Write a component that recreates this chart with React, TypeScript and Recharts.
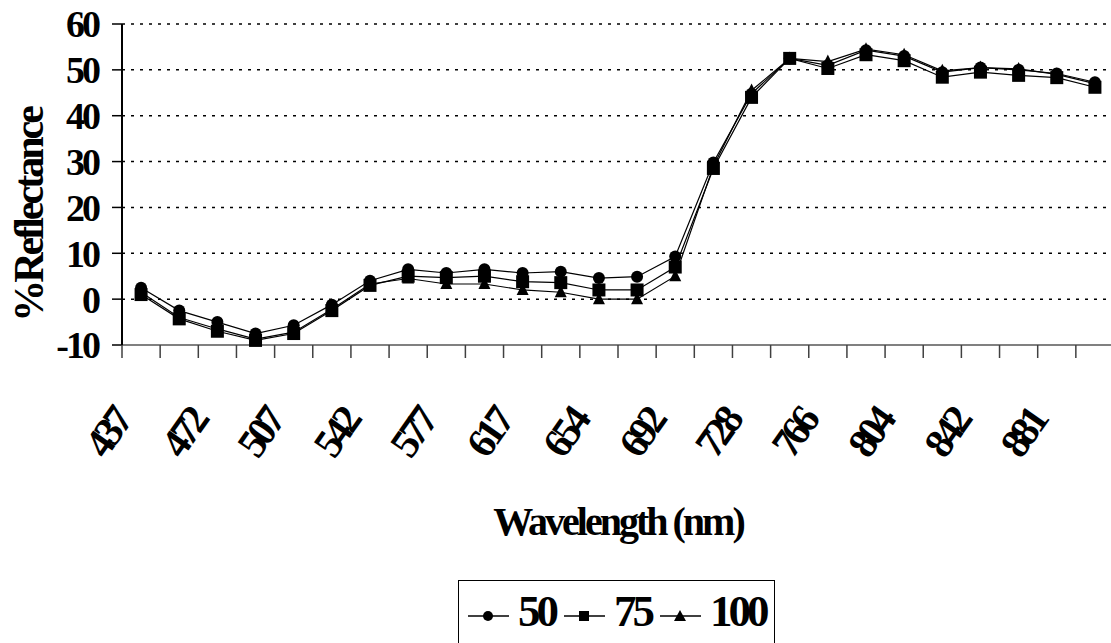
import { LineChart, Line, XAxis, YAxis, CartesianGrid, Legend, Label } from "recharts";

const wavelengths = [437, 455, 472, 490, 507, 525, 542, 560, 577, 597, 617, 635, 654, 673, 692, 710, 728, 747, 766, 785, 804, 823, 842, 862, 881, 900];
const r50 = [2.5, -2.5, -5, -7.5, -5.7, -1.2, 4, 6.5, 5.7, 6.5, 5.7, 6, 4.6, 4.9, 9.3, 29.8, 44.8, 52.5, 51, 54.3, 53, 49.5, 50.5, 50, 49.2, 47.3];
const r75 = [1, -4.3, -7, -9, -7.5, -2.5, 3, 5, 4.7, 5, 3.8, 3.6, 2, 2, 7, 28.5, 44, 52.5, 50.3, 53.3, 52, 48.4, 49.5, 48.8, 48.3, 46.2];
const r100 = [1.5, -4, -6.5, -8.7, -7.2, -2.2, 3.3, 4.5, 3.3, 3.3, 2, 1.5, 0, 0, 5, 29, 45.5, 52.5, 51.8, 54.5, 53.3, 49.8, 50.5, 50.2, 49, 47];
const yTicks = [-10, 0, 10, 20, 30, 40, 50, 60];

const data = wavelengths.map((w, i) => ({ w, s50: r50[i], s75: r75[i], s100: r100[i] }));

const FONT = "'Liberation Serif', 'Times New Roman', serif";
const PLOT_LEFT = 122;
const PLOT_W = 992;
const HALF_BAND = PLOT_W / wavelengths.length / 2;

const CircleDot = (p: any) => <circle key={p.key} cx={p.cx} cy={p.cy} r={6} fill="#000" />;
const SquareDot = (p: any) => <rect key={p.key} x={p.cx - 6.5} y={p.cy - 6.5} width={13} height={13} fill="#000" />;
const TriDot = (p: any) => (
  <polygon key={p.key} points={`${p.cx},${p.cy - 7} ${p.cx + 6},${p.cy + 5} ${p.cx - 6},${p.cy + 5}`} fill="#000" />
);

const XTick = (props: any) => {
  const { x, y, payload } = props;
  const idx = payload.index ?? props.index;
  return (
    <g>
      <line x1={x - HALF_BAND} x2={x - HALF_BAND} y1={y} y2={y + 13} stroke="#404040" strokeWidth={1.5} />
      {idx % 2 === 0 && (
        <text
          transform={`translate(${x - 9},${y + 77}) rotate(-55)`}
          textAnchor="end"
          fontFamily={FONT}
          fontWeight="bold"
          fontSize={41}
          letterSpacing={-5}
          fill="#000"
        >
          {payload.value}
        </text>
      )}
    </g>
  );
};

const legendItems = [
  { label: "50", shape: "circle" },
  { label: "75", shape: "square" },
  { label: "100", shape: "triangle" },
];

const LegendBox = () => (
  <div
    style={{
      border: "1.5px solid #000",
      background: "#fff",
      display: "flex",
      alignItems: "flex-start",
      padding: "5px 6px 14px 9px",
      fontFamily: FONT,
      fontWeight: "bold",
      fontSize: 45,
      letterSpacing: -4,
      lineHeight: "50px",
    }}
  >
    {legendItems.map((it, i) => (
      <div key={it.label} style={{ display: "flex", alignItems: "flex-start", marginRight: i < 2 ? 9 : 2 }}>
        <svg width={41} height={50} style={{ marginRight: 9 }}>
          <line x1={0} x2={41} y1={30} y2={30} stroke="#000" strokeWidth={1.5} />
          {it.shape === "circle" && <circle cx={20} cy={30} r={5} fill="#000" />}
          {it.shape === "square" && <rect x={15} y={25} width={10} height={10} fill="#000" />}
          {it.shape === "triangle" && <polygon points="20,24 26,35 14,35" fill="#000" />}
        </svg>
        <span>{it.label}</span>
      </div>
    ))}
  </div>
);

export default function App() {
  return (
    <div style={{ position: "absolute", left: 0, top: 0, width: 1111, height: 643, overflow: "hidden", background: "#fff" }}>
      <LineChart
        width={1120}
        height={643}
        data={data}
        margin={{ top: 24, right: 1120 - PLOT_LEFT - PLOT_W, left: 0, bottom: 0 }}
      >
        <CartesianGrid vertical={false} stroke="#000" strokeDasharray="3 6" strokeWidth={1.5} />
        <XAxis
          dataKey="w"
          scale="band"
          interval={0}
          height={298}
          tickSize={0}
          tickMargin={0}
          tick={<XTick />}
          axisLine={{ stroke: "#808080", strokeWidth: 2 }}
        >
          <Label
            content={() => (
              <text x={618} y={535} textAnchor="middle" fontFamily={FONT} fontWeight="bold" fontSize={40} letterSpacing={-3} fill="#000">
                Wavelength (nm)
              </text>
            )}
          />
        </XAxis>
        <YAxis
          width={PLOT_LEFT}
          domain={[-10, 60]}
          ticks={yTicks}
          interval={0}
          tickSize={10}
          tickMargin={14}
          tick={{ fontFamily: FONT, fontWeight: "bold", fontSize: 38, fill: "#000", letterSpacing: -3 }}
          tickLine={{ stroke: "#000", strokeWidth: 1.5 }}
          axisLine={{ stroke: "#000", strokeWidth: 2 }}
        >
          <Label
            content={() => (
              <text
                transform="translate(43,215) rotate(-90)"
                textAnchor="middle"
                fontFamily={FONT}
                fontWeight="bold"
                fontSize={42}
                letterSpacing={-3}
                fill="#000"
              >
                %Reflectance
              </text>
            )}
          />
        </YAxis>
        <Legend
          layout="horizontal"
          verticalAlign="middle"
          content={() => <LegendBox />}
          wrapperStyle={{ position: "absolute", left: 458, top: 580, width: "auto" }}
        />
        <Line dataKey="s50" stroke="#000" strokeWidth={1.2} dot={CircleDot} activeDot={false} isAnimationActive={false} />
        <Line dataKey="s75" stroke="#000" strokeWidth={1.2} dot={SquareDot} activeDot={false} isAnimationActive={false} />
        <Line dataKey="s100" stroke="#000" strokeWidth={1.2} dot={TriDot} activeDot={false} isAnimationActive={false} />
      </LineChart>
    </div>
  );
}
